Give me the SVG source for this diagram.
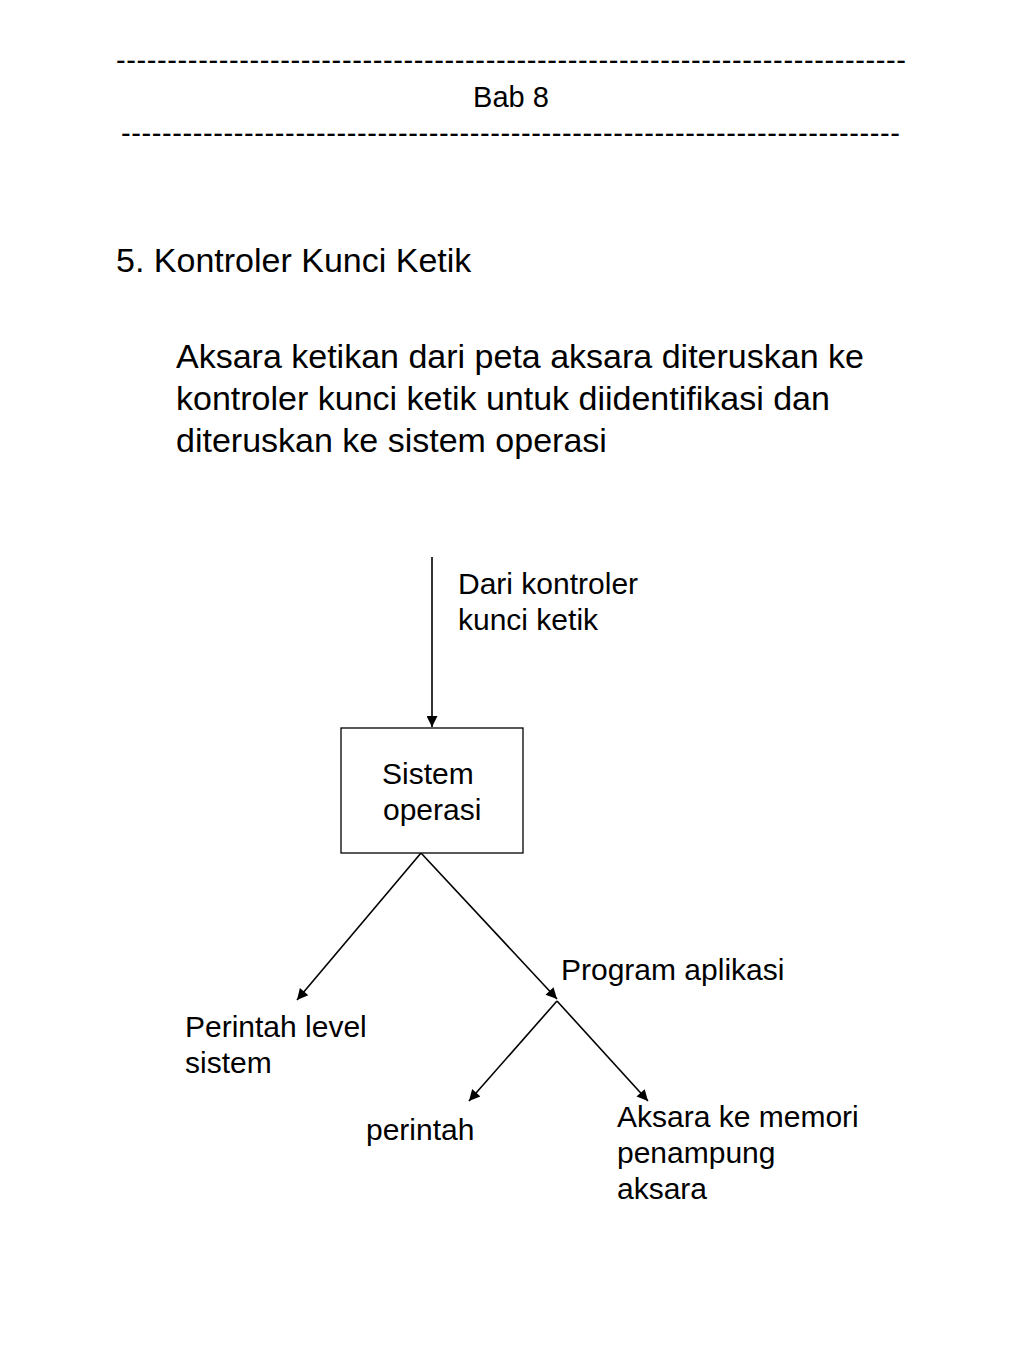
<svg xmlns="http://www.w3.org/2000/svg" width="1024" height="1365" viewBox="0 0 1024 1365">
<style>
text{font-family:"Liberation Sans",Arial,sans-serif;fill:#000}
.h{font-size:29px}
.t{font-size:34px}
.l{font-size:30px}
.c{stroke:#000;stroke-width:1.6;fill:none}
</style>
<defs>
<marker id="a" viewBox="0 0 10 10" refX="10" refY="5" markerWidth="13" markerHeight="11" markerUnits="userSpaceOnUse" orient="auto">
<path d="M0,0 L10,5 L0,10 z" fill="#000"/>
</marker>
</defs>
<rect width="1024" height="1365" fill="#fff"/>
<g id="header">
<text class="h" x="116" y="70" textLength="790" lengthAdjust="spacing">-----------------------------------------------------------------------------</text>
<text class="h" x="511" y="107" text-anchor="middle">Bab 8</text>
<text class="h" x="121" y="143" textLength="779" lengthAdjust="spacing">----------------------------------------------------------------------------</text>
</g>
<g id="title">
<text class="t" x="116" y="272">5. Kontroler Kunci Ketik</text>
<text class="t" x="176" y="368">Aksara ketikan dari peta aksara diteruskan ke</text>
<text class="t" x="176" y="410">kontroler kunci ketik untuk diidentifikasi dan</text>
<text class="t" x="176" y="452">diteruskan ke sistem operasi</text>
</g>
<g id="connectors">
<line class="c" x1="432" y1="557" x2="432" y2="727" marker-end="url(#a)"/>
<line class="c" x1="421" y1="853" x2="297" y2="1000" marker-end="url(#a)"/>
<line class="c" x1="421" y1="853" x2="557" y2="999" marker-end="url(#a)"/>
<line class="c" x1="557" y1="1001" x2="469" y2="1101" marker-end="url(#a)"/>
<line class="c" x1="557" y1="1001" x2="648" y2="1101" marker-end="url(#a)"/>
</g>
<g id="label-input">
<text class="l" x="458" y="594">Dari kontroler</text>
<text class="l" x="458" y="630">kunci ketik</text>
</g>
<g id="node-sistem-operasi">
<rect x="341" y="728" width="182" height="125" fill="#fff" stroke="#000" stroke-width="1.3"/>
<text class="l" x="382" y="784">Sistem</text>
<text class="l" x="383" y="820">operasi</text>
</g>
<g id="node-program-aplikasi">
<text class="l" x="561" y="980">Program aplikasi</text>
</g>
<g id="node-perintah-level-sistem">
<text class="l" x="185" y="1037">Perintah level</text>
<text class="l" x="185" y="1073">sistem</text>
</g>
<g id="node-perintah">
<text class="l" x="366" y="1140">perintah</text>
</g>
<g id="node-aksara-memori">
<text class="l" x="617" y="1127">Aksara ke memori</text>
<text class="l" x="617" y="1163">penampung</text>
<text class="l" x="617" y="1199">aksara</text>
</g>
</svg>
